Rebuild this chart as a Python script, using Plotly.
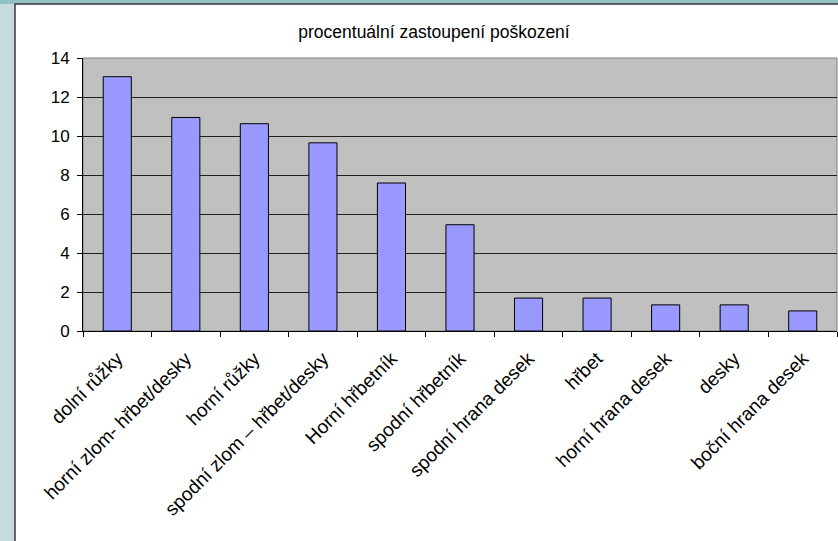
import plotly.graph_objects as go

categories = [
    "dolní růžky",
    "horní zlom- hřbet/desky",
    "horní růžky",
    "spodní zlom – hřbet/desky",
    "Horní hřbetník",
    "spodní hřbetník",
    "spodní hrana desek",
    "hřbet",
    "horní hrana desek",
    "desky",
    "boční hrana desek",
]
values = [13.04, 10.95, 10.63, 9.65, 7.59, 5.45, 1.69, 1.69, 1.34, 1.34, 1.03]
y_ticks = [0, 2, 4, 6, 8, 10, 12, 14]
title_text = "procentuální zastoupení poškození"

W, H = 838, 541
L, R, T, B = 83, 1, 58, 210
pw, ph = W - L - R, H - T - B

def px(x):
    return (x - L) / pw

def py(y):
    return (H - B - y) / ph

font = "Arial, Liberation Sans, sans-serif"

fig = go.Figure(
    go.Bar(
        x=categories,
        y=values,
        marker=dict(color="#9999FF", line=dict(color="#000000", width=1)),
        width=0.41,
    )
)

shapes = [
    # slide top strip (teal)
    dict(type="rect", xref="paper", yref="paper", layer="below",
         x0=px(-10), x1=px(900), y0=py(4), y1=py(-10),
         fillcolor="#8FC0C2", line=dict(width=0)),
    # chart box (white, with dark border)
    dict(type="rect", xref="paper", yref="paper", layer="below",
         x0=px(15), x1=px(900), y0=py(600), y1=py(4),
         fillcolor="white", line=dict(color="#3a3a3a", width=1.5)),
    # plot area
    dict(type="rect", xref="paper", yref="paper", layer="below",
         x0=0, x1=1, y0=0, y1=1,
         fillcolor="#C0C0C0", line=dict(color="#808080", width=1)),
]

fig.update_layout(
    width=W, height=H,
    margin=dict(l=L, r=R, t=T, b=B, pad=0),
    paper_bgcolor="#C4DCDE",
    plot_bgcolor="rgba(0,0,0,0)",
    shapes=shapes,
    showlegend=False,
    bargap=0.59,
    title=dict(text=title_text, x=434 / W, xref="container", xanchor="center",
               y=1 - 32 / H, yref="container", yanchor="middle",
               font=dict(family=font, size=17.5, color="#000")),
    font=dict(family=font, color="#000"),
)

fig.update_xaxes(
    type="category",
    showline=True, linecolor="#000", linewidth=1,
    ticks="outside", tickson="boundaries", ticklen=5, tickcolor="#000",
    tickangle=-45,
    ticklabelstandoff=8,
    tickfont=dict(family=font, size=19, color="#000"),
    showgrid=False,
    range=[-0.5, len(categories) - 0.5],
)
fig.update_yaxes(
    range=[0, 14],
    tickvals=y_ticks,
    showline=True, linecolor="#000", linewidth=1,
    ticks="outside", ticklen=5, tickcolor="#000",
    ticklabelstandoff=4,
    tickfont=dict(family=font, size=17, color="#000"),
    showgrid=True, gridcolor="#202020", gridwidth=1,
    zeroline=False,
)

fig.write_html(
    "out.html",
    config={"displayModeBar": False},
    post_script="document.body.style.margin='0';document.body.style.overflow='hidden';",
)
